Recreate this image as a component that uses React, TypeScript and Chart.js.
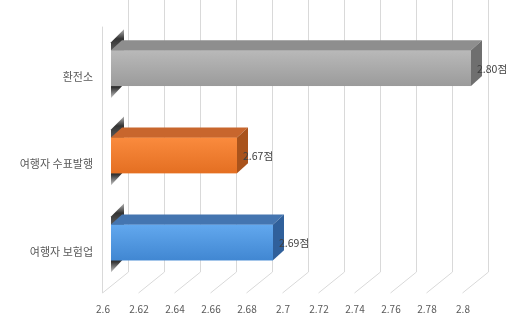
import React, { useEffect, useRef } from 'react';
import { Chart, registerables } from 'chart.js';

Chart.register(...registerables);

const categories = ['환전소', '여행자 수표발행', '여행자 보험업'];
const scores = [2.8, 2.67, 2.69];
const valueSuffix = '점';
const xTickLabels = ['2.6', '2.62', '2.64', '2.66', '2.68', '2.7', '2.72', '2.74', '2.76', '2.78', '2.8'];
const xMin = 2.6;
const xMax = 2.8;
const xStep = 0.02;

const faceLight = ['#b9b9b9', '#fa8b3e', '#62a8ee'];
const faceDark = ['#9b9b9b', '#e46f22', '#4187d2'];
const topColors = ['#8e8e8e', '#c8662d', '#4475b0'];
const sideColors = ['#6f6f6f', '#a9531c', '#30609b'];

const FONT = "'Noto Sans CJK KR', 'Noto Sans', sans-serif";
const GRID = '#d9d9d9';
const BACK_DX = 17;
const FRONT_DX = -9;
const FLOOR_DY = 21;
const BAR_DX = 11;
const BAR_DY = 10;

const threeD = {
  id: 'threeD',
  beforeDatasetsDraw(chart: any) {
    const { ctx, chartArea, scales } = chart;
    const xs = scales.x;
    const floorBack = chartArea.bottom - 14;
    const floorFront = floorBack + FLOOR_DY;
    ctx.save();
    ctx.strokeStyle = GRID;
    ctx.lineWidth = 1;
    xs.ticks.forEach((t: any) => {
      const px = Math.round(xs.getPixelForValue(t.value));
      ctx.beginPath();
      ctx.moveTo(px + BACK_DX + 0.5, -5);
      ctx.lineTo(px + BACK_DX + 0.5, floorBack);
      ctx.lineTo(px + FRONT_DX + 0.5, floorFront);
      ctx.stroke();
    });
    const left = Math.round(chartArea.left);
    ctx.beginPath();
    ctx.moveTo(left + FRONT_DX + 0.5, floorFront);
    ctx.lineTo(left + FRONT_DX + 0.5, chartArea.top + 2);
    ctx.stroke();

    // shadows at the left wall
    const meta = chart.getDatasetMeta(0);
    meta.data.forEach((el: any) => {
      const top = el.y - el.height / 2;
      const bottom = el.y + el.height / 2;
      const b = el.base;
      const g = ctx.createLinearGradient(0, top - 22, 0, bottom + 12);
      g.addColorStop(0, 'rgba(60,60,60,0.35)');
      g.addColorStop(0.15, 'rgba(40,40,40,0.95)');
      g.addColorStop(0.5, 'rgba(120,120,120,0.9)');
      g.addColorStop(0.85, 'rgba(40,40,40,0.95)');
      g.addColorStop(1, 'rgba(60,60,60,0.3)');
      ctx.fillStyle = g;
      ctx.beginPath();
      ctx.moveTo(b, top - 8);
      ctx.lineTo(b + 13, top - 21);
      ctx.lineTo(b + 13, bottom - 2);
      ctx.lineTo(b, bottom + 12);
      ctx.closePath();
      ctx.fill();
    });
    ctx.restore();
  },
  afterDatasetsDraw(chart: any) {
    const { ctx } = chart;
    const meta = chart.getDatasetMeta(0);
    ctx.save();
    meta.data.forEach((el: any, i: number) => {
      const top = el.y - el.height / 2;
      const bottom = el.y + el.height / 2;
      const b = el.base;
      const x = el.x;
      const g = ctx.createLinearGradient(0, top, 0, bottom);
      g.addColorStop(0, faceLight[i]);
      g.addColorStop(1, faceDark[i]);
      ctx.fillStyle = g;
      ctx.fillRect(b, top, x - b, bottom - top);
      ctx.fillStyle = topColors[i];
      ctx.beginPath();
      ctx.moveTo(b, top);
      ctx.lineTo(x, top);
      ctx.lineTo(x + BAR_DX, top - BAR_DY);
      ctx.lineTo(b + BAR_DX, top - BAR_DY);
      ctx.closePath();
      ctx.fill();
      ctx.fillStyle = sideColors[i];
      ctx.beginPath();
      ctx.moveTo(x, top);
      ctx.lineTo(x + BAR_DX, top - BAR_DY);
      ctx.lineTo(x + BAR_DX, bottom - BAR_DY);
      ctx.lineTo(x, bottom);
      ctx.closePath();
      ctx.fill();
      ctx.fillStyle = '#404040';
      ctx.font = `10.5px ${FONT}`;
      ctx.textAlign = 'left';
      ctx.textBaseline = 'middle';
      ctx.fillText(scores[i].toFixed(2) + valueSuffix, x + 6, el.y + 1);
    });
    ctx.restore();
  },
};

export default function App() {
  const ref = useRef<HTMLCanvasElement>(null);
  useEffect(() => {
    if (!ref.current) return;
    const chart = new Chart(ref.current, {
      type: 'bar',
      data: {
        labels: categories,
        datasets: [
          {
            data: scores,
            base: xMin,
            backgroundColor: faceDark,
            borderWidth: 0,
            categoryPercentage: 0.82,
            barPercentage: 0.5,
          },
        ],
      },
      options: {
        indexAxis: 'y',
        animation: false,
        responsive: false,
        maintainAspectRatio: false,
        layout: { padding: { top: 16, right: 47, bottom: 0, left: 0 } },
        plugins: { legend: { display: false }, tooltip: { enabled: false } },
        scales: {
          x: {
            min: xMin,
            max: xMax,
            ticks: {
              stepSize: xStep,
              padding: 17,
              labelOffset: -8,
              color: '#595959',
              font: { family: FONT, size: 10 },
              maxRotation: 0,
              autoSkip: false,
              callback: (_v: any, i: number) => xTickLabels[i],
            },
            grid: { display: false, drawTicks: false },
            border: { display: false },
            afterFit: (s: any) => {
              s.height = 29;
            },
          },
          y: {
            ticks: {
              padding: 18,
              labelOffset: 9,
              color: '#595959',
              font: { family: FONT, size: 11 },
            },
            grid: { display: false, drawTicks: false },
            border: { display: false },
            afterFit: (s: any) => {
              s.width = 111;
            },
          },
        },
      },
      plugins: [threeD],
    } as any);
    return () => chart.destroy();
  }, []);
  return (
    <div style={{ position: 'fixed', left: 0, top: 0, width: 518, height: 315, background: '#fff' }}>
      <canvas ref={ref} width={518} height={315} style={{ display: 'block' }} />
    </div>
  );
}
